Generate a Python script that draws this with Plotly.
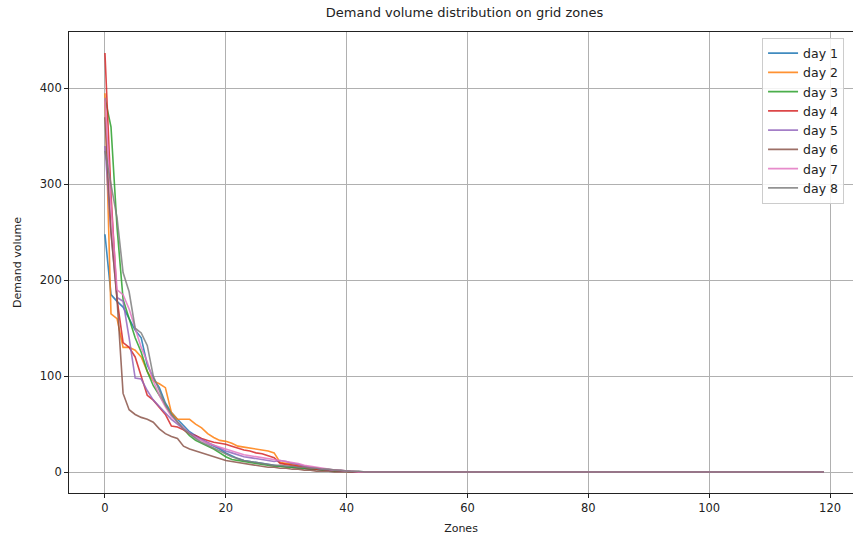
import plotly.graph_objects as go

# zones 0..119
zones = list(range(120))

day_names = ["day 1", "day 2", "day 3", "day 4", "day 5", "day 6", "day 7", "day 8"]
day_colors = ["#1f77b4", "#ff7f0e", "#2ca02c", "#d62728",
              "#9467bd", "#8c564b", "#e377c2", "#7f7f7f"]

day_1 = [
    248, 185, 178, 172, 160, 148, 140, 112, 98, 88,
    72, 62, 55, 48, 42, 38, 34, 30, 27, 24,
    20, 17, 14, 12, 11, 10, 9, 8, 7, 6,
    6, 5, 5, 4, 3, 3, 2, 2, 1, 1,
    1, 0, 0, 0, 0, 0, 0, 0, 0, 0,
    0, 0, 0, 0, 0, 0, 0, 0, 0, 0,
    0, 0, 0, 0, 0, 0, 0, 0, 0, 0,
    0, 0, 0, 0, 0, 0, 0, 0, 0, 0,
    0, 0, 0, 0, 0, 0, 0, 0, 0, 0,
    0, 0, 0, 0, 0, 0, 0, 0, 0, 0,
    0, 0, 0, 0, 0, 0, 0, 0, 0, 0,
    0, 0, 0, 0, 0, 0, 0, 0, 0, 0,
]
day_2 = [
    395, 165, 160, 130, 130, 127, 120, 105, 95, 92,
    88, 62, 55, 55, 55, 50, 46, 40, 36, 33,
    32, 30, 27, 26, 25, 24, 23, 22, 20, 10,
    9, 8, 7, 6, 5, 4, 3, 2, 2, 1,
    1, 0, 0, 0, 0, 0, 0, 0, 0, 0,
    0, 0, 0, 0, 0, 0, 0, 0, 0, 0,
    0, 0, 0, 0, 0, 0, 0, 0, 0, 0,
    0, 0, 0, 0, 0, 0, 0, 0, 0, 0,
    0, 0, 0, 0, 0, 0, 0, 0, 0, 0,
    0, 0, 0, 0, 0, 0, 0, 0, 0, 0,
    0, 0, 0, 0, 0, 0, 0, 0, 0, 0,
    0, 0, 0, 0, 0, 0, 0, 0, 0, 0,
]
day_3 = [
    390, 360, 255, 180, 160, 140, 125, 105, 90, 80,
    70, 60, 52, 45, 38, 33, 30, 27, 24, 20,
    16, 13, 12, 11, 10, 9, 8, 7, 6, 6,
    5, 5, 4, 4, 3, 3, 2, 2, 1, 1,
    1, 0, 0, 0, 0, 0, 0, 0, 0, 0,
    0, 0, 0, 0, 0, 0, 0, 0, 0, 0,
    0, 0, 0, 0, 0, 0, 0, 0, 0, 0,
    0, 0, 0, 0, 0, 0, 0, 0, 0, 0,
    0, 0, 0, 0, 0, 0, 0, 0, 0, 0,
    0, 0, 0, 0, 0, 0, 0, 0, 0, 0,
    0, 0, 0, 0, 0, 0, 0, 0, 0, 0,
    0, 0, 0, 0, 0, 0, 0, 0, 0, 0,
]
day_4 = [
    437, 290, 180, 135, 130, 120, 100, 80, 75, 68,
    60, 48, 47, 44, 40, 38, 35, 33, 31, 30,
    29, 27, 25, 23, 22, 20, 19, 17, 15, 9,
    8, 7, 6, 5, 4, 3, 3, 2, 2, 1,
    1, 0, 0, 0, 0, 0, 0, 0, 0, 0,
    0, 0, 0, 0, 0, 0, 0, 0, 0, 0,
    0, 0, 0, 0, 0, 0, 0, 0, 0, 0,
    0, 0, 0, 0, 0, 0, 0, 0, 0, 0,
    0, 0, 0, 0, 0, 0, 0, 0, 0, 0,
    0, 0, 0, 0, 0, 0, 0, 0, 0, 0,
    0, 0, 0, 0, 0, 0, 0, 0, 0, 0,
    0, 0, 0, 0, 0, 0, 0, 0, 0, 0,
]
day_5 = [
    340, 250, 182, 178, 140, 98, 97, 85, 75, 68,
    62, 55, 50, 45, 41, 37, 34, 31, 28, 25,
    22, 20, 18, 16, 15, 14, 13, 12, 11, 12,
    11, 9, 8, 6, 5, 4, 3, 2, 2, 1,
    1, 0, 0, 0, 0, 0, 0, 0, 0, 0,
    0, 0, 0, 0, 0, 0, 0, 0, 0, 0,
    0, 0, 0, 0, 0, 0, 0, 0, 0, 0,
    0, 0, 0, 0, 0, 0, 0, 0, 0, 0,
    0, 0, 0, 0, 0, 0, 0, 0, 0, 0,
    0, 0, 0, 0, 0, 0, 0, 0, 0, 0,
    0, 0, 0, 0, 0, 0, 0, 0, 0, 0,
    0, 0, 0, 0, 0, 0, 0, 0, 0, 0,
]
day_6 = [
    370, 250, 180, 82, 65, 60, 57, 55, 52, 45,
    40, 37, 35, 27, 24, 22, 20, 18, 16, 14,
    12, 11, 10, 9, 8, 7, 6, 5, 5, 4,
    4, 3, 3, 2, 2, 1, 1, 1, 0, 0,
    0, 0, 0, 0, 0, 0, 0, 0, 0, 0,
    0, 0, 0, 0, 0, 0, 0, 0, 0, 0,
    0, 0, 0, 0, 0, 0, 0, 0, 0, 0,
    0, 0, 0, 0, 0, 0, 0, 0, 0, 0,
    0, 0, 0, 0, 0, 0, 0, 0, 0, 0,
    0, 0, 0, 0, 0, 0, 0, 0, 0, 0,
    0, 0, 0, 0, 0, 0, 0, 0, 0, 0,
    0, 0, 0, 0, 0, 0, 0, 0, 0, 0,
]
day_7 = [
    390, 280, 190, 185, 170, 150, 130, 115, 95, 80,
    68, 58, 52, 45, 40, 36, 33, 30, 28, 26,
    24, 22, 20, 18, 17, 16, 15, 14, 13, 12,
    11, 10, 9, 7, 6, 5, 4, 3, 2, 2,
    1, 1, 0, 0, 0, 0, 0, 0, 0, 0,
    0, 0, 0, 0, 0, 0, 0, 0, 0, 0,
    0, 0, 0, 0, 0, 0, 0, 0, 0, 0,
    0, 0, 0, 0, 0, 0, 0, 0, 0, 0,
    0, 0, 0, 0, 0, 0, 0, 0, 0, 0,
    0, 0, 0, 0, 0, 0, 0, 0, 0, 0,
    0, 0, 0, 0, 0, 0, 0, 0, 0, 0,
    0, 0, 0, 0, 0, 0, 0, 0, 0, 0,
]
day_8 = [
    335, 300, 265, 208, 188, 150, 145, 132, 100, 85,
    70, 60, 52, 45, 40, 35, 31, 28, 25, 22,
    19, 16, 14, 12, 11, 10, 9, 8, 7, 7,
    6, 6, 5, 5, 4, 4, 3, 3, 2, 2,
    1, 1, 1, 0, 0, 0, 0, 0, 0, 0,
    0, 0, 0, 0, 0, 0, 0, 0, 0, 0,
    0, 0, 0, 0, 0, 0, 0, 0, 0, 0,
    0, 0, 0, 0, 0, 0, 0, 0, 0, 0,
    0, 0, 0, 0, 0, 0, 0, 0, 0, 0,
    0, 0, 0, 0, 0, 0, 0, 0, 0, 0,
    0, 0, 0, 0, 0, 0, 0, 0, 0, 0,
    0, 0, 0, 0, 0, 0, 0, 0, 0, 0,
]

all_days = [day_1, day_2, day_3, day_4, day_5, day_6, day_7, day_8]

fig = go.Figure()
for name, col, vals in zip(day_names, day_colors, all_days):
    fig.add_trace(go.Scatter(x=zones, y=vals, mode="lines", name=name,
                             line=dict(color=col, width=1.6), opacity=0.85))

font_fam = "DejaVu Sans"
axis_common = dict(
    showgrid=True, gridcolor="#b0b0b0", gridwidth=0.8,
    showline=True, linecolor="#222222", linewidth=0.9,
    ticks="outside", ticklen=4, tickcolor="#222222", tickwidth=0.9,
    zeroline=False, automargin=False,
    tickfont=dict(family=font_fam, size=11.5, color="#222222"),
)

fig.update_layout(
    width=853, height=543,
    paper_bgcolor="white", plot_bgcolor="white",
    margin=dict(l=69, r=0, t=32, b=50, autoexpand=False),
    font=dict(family=font_fam, color="#222222"),
    title=dict(text="Demand volume distribution on grid zones",
               x=0.5045, xref="paper", xanchor="center",
               y=1 - 12 / 543, yref="container", yanchor="middle",
               font=dict(size=13, family=font_fam, color="#222222")),
    xaxis=dict(axis_common, range=[-5.95, 123.8], tickvals=[0, 20, 40, 60, 80, 100, 120],
               mirror=True,
               title=dict(text="Zones", standoff=10, font=dict(size=11, family=font_fam))),
    yaxis=dict(axis_common, range=[-21.85, 458.85], tickvals=[0, 100, 200, 300, 400],
               mirror=False,
               title=dict(text="Demand volume", standoff=15, font=dict(size=11, family=font_fam))),
    legend=dict(x=0.884, xanchor="left", y=0.988, yanchor="top",
                bgcolor="rgba(255,255,255,0.85)", bordercolor="#cccccc", borderwidth=1,
                font=dict(size=12.5, family=font_fam, color="#222222"),
                tracegroupgap=0, itemwidth=30),
    showlegend=True,
)

# the page body has a default 8px margin; drop it so the figure fills the window
fig.write_html("out.html", config={"displayModeBar": False},
               post_script="document.body.style.margin='0';")
